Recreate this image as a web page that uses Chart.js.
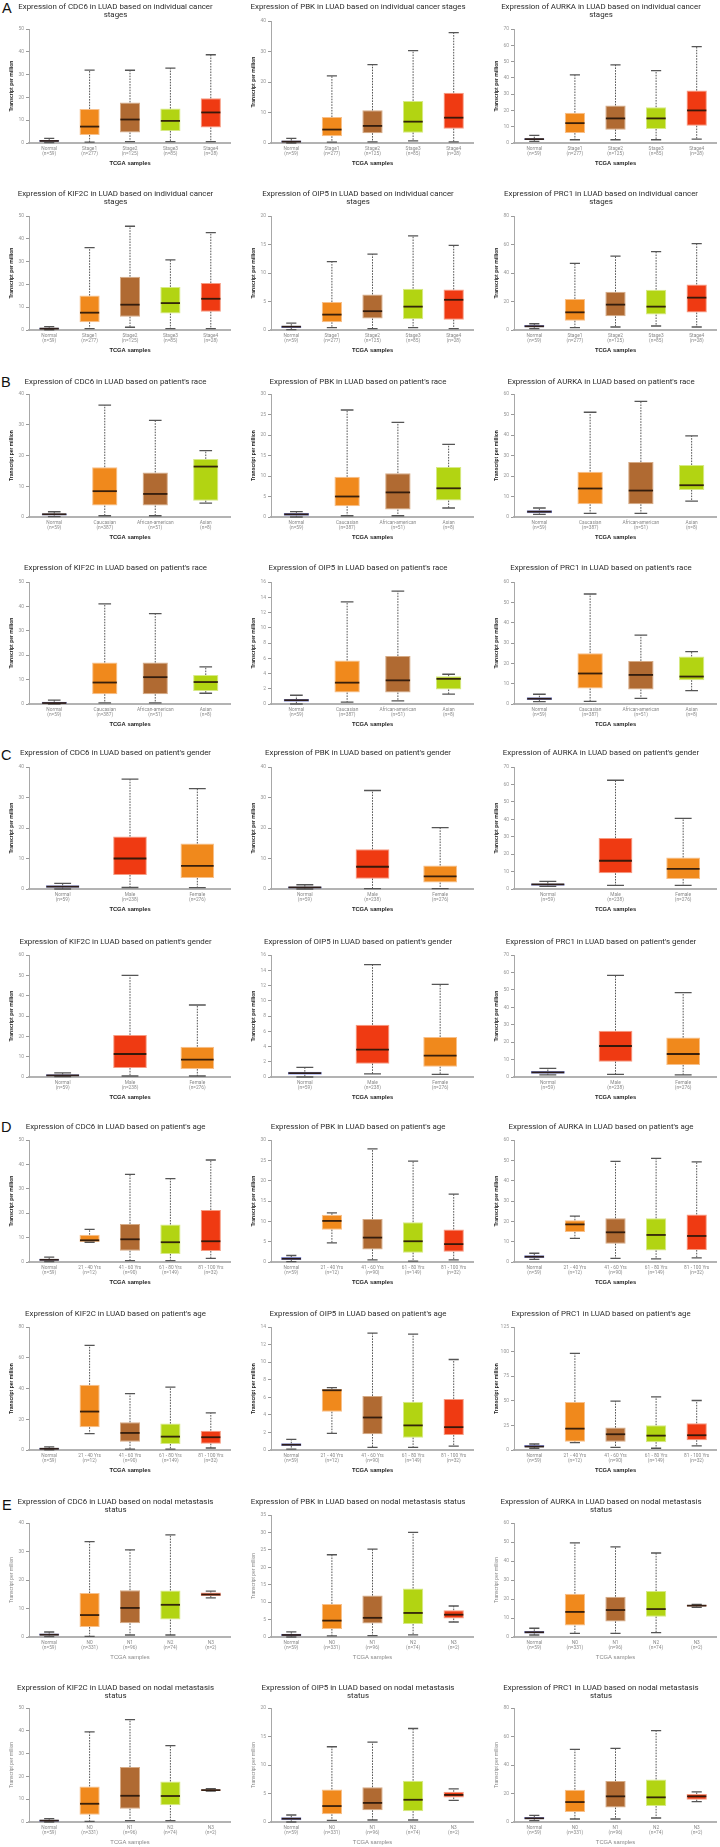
<!DOCTYPE html>
<html><head><meta charset="utf-8">
<script src="https://cdn.jsdelivr.net/npm/chart.js@4.4.0/dist/chart.umd.min.js"></script>
<style>
html,body{margin:0;padding:0;background:#fff;width:720px;height:1847px;overflow:hidden;position:relative}
canvas{position:absolute}
.lab{position:absolute;font-family:"Liberation Sans",Arial,sans-serif;font-size:14.5px;line-height:15px;color:#111}
</style></head><body>
<div class="lab" style="left:2px;top:1px">A</div>
<div class="lab" style="left:1px;top:375px">B</div>
<div class="lab" style="left:1px;top:748px">C</div>
<div class="lab" style="left:1px;top:1120px">D</div>
<div class="lab" style="left:2px;top:1498px">E</div>
<script>
// ---------- categories ----------
const stageCats = ['Normal','Stage1','Stage2','Stage3','Stage4'];
const stageN = ['(n=59)','(n=277)','(n=125)','(n=85)','(n=28)'];
const raceCats = ['Normal','Caucasian','African-american','Asian'];
const raceN = ['(n=59)','(n=387)','(n=51)','(n=8)'];
const genderCats = ['Normal','Male','Female'];
const genderN = ['(n=59)','(n=238)','(n=276)'];
const ageCats = ['Normal','21 - 40 Yrs','41 - 60 Yrs','61 - 80 Yrs','81 - 100 Yrs'];
const ageN = ['(n=59)','(n=12)','(n=90)','(n=149)','(n=32)'];
const nodalCats = ['Normal','N0','N1','N2','N3'];
const nodalN = ['(n=59)','(n=331)','(n=96)','(n=74)','(n=2)'];
const genes = ['CDC6','PBK','AURKA','KIF2C','OIP5','PRC1'];

// ---------- values: each entry [min, q1, median, q3, max] ----------
const stageCDC6 = [[0.2,0.5,0.9,1.3,2.0],[0.4,3.5,7.2,14.9,32.0],[0.6,4.6,10.3,17.8,31.9],[0.6,5.3,9.7,15.1,32.8],[0.6,6.8,13.4,19.6,38.7]];
const stagePBK = [[0,0.2,0.45,0.8,1.5],[0.3,2.2,4.4,8.5,22.0],[0.4,3.2,5.6,10.7,25.7],[0.7,3.4,7.0,13.8,30.3],[0.4,4.7,8.3,16.5,36.2]];
const stageAURKA = [[1.0,1.8,2.4,2.9,4.7],[2.0,6.1,12.2,18.6,41.8],[2.0,8.2,15.1,23.1,48.0],[2.0,8.6,15.1,22.0,44.5],[2.4,10.6,20.0,32.2,59.2]];
const stageKIF2C = [[0.1,0.3,0.6,1.0,1.5],[0.6,3.4,7.6,15.1,36.1],[1.2,5.8,11.1,23.4,45.5],[0.6,7.2,11.8,18.9,30.8],[0.6,8.0,13.7,20.6,42.7]];
const stageOIP5 = [[0.05,0.35,0.58,0.75,1.2],[0.4,1.35,2.7,4.9,12.0],[0.25,2.0,3.3,6.25,13.3],[0.4,1.9,4.1,7.25,16.5],[0.25,1.8,5.3,7.1,14.85]];
const stagePRC1 = [[0.9,1.9,2.6,3.5,4.4],[1.6,6.5,12.4,21.8,46.8],[2.1,9.6,17.8,26.9,51.9],[2.8,10.8,16.4,28.3,55.0],[2.1,12.2,22.7,32.0,60.6]];

const raceCDC6 = [[0.1,0.5,0.9,1.1,1.7],[0.4,3.7,8.4,16.2,36.4],[0.4,3.7,7.5,14.5,31.4],[4.5,5.3,16.4,18.9,21.6]];
const racePBK = [[0,0.3,0.65,1.0,1.3],[0.3,2.6,5.0,9.8,26.1],[0.3,1.8,6.0,10.7,23.1],[2.2,4.0,7.0,12.2,17.7]];
const raceAURKA = [[1.3,1.8,2.6,3.3,4.4],[1.8,6.2,13.9,22.1,51.1],[1.8,6.2,12.9,26.8,56.4],[7.7,13.2,15.5,25.4,39.6]];
const raceKIF2C = [[0,0.1,0.4,0.9,1.6],[0.5,4.0,8.8,17.0,41.0],[0.5,4.0,11.0,17.0,37.0],[4.4,5.3,9.0,11.9,15.2]];
const raceOIP5 = [[0,0.3,0.5,0.65,1.15],[0.25,1.5,2.8,5.7,13.4],[0.4,1.5,3.1,6.3,14.8],[1.3,1.9,3.3,3.65,3.9]];
const racePRC1 = [[1.2,2.0,2.6,3.3,4.8],[1.3,7.6,15.0,25.0,54.1],[2.8,7.1,14.3,21.2,33.9],[6.6,11.7,13.5,23.4,25.8]];

const genderCDC6 = [[0,0.45,0.75,1.2,1.85],[0.5,4.6,10.0,17.2,36.0],[0.45,3.6,7.6,14.9,32.9]];
const genderPBK = [[0,0.2,0.55,0.8,1.4],[0.1,3.4,7.3,13.0,32.3],[0.1,2.1,4.15,7.7,20.1]];
const genderAURKA = [[1.5,1.9,2.7,3.2,4.4],[2.1,9.0,16.2,29.2,62.4],[2.1,5.7,11.6,18.1,40.5]];
const genderKIF2C = [[0.2,0.4,0.8,1.3,2.0],[0.5,4.4,11.3,20.7,50.0],[0.5,3.9,8.5,14.9,35.4]];
const genderOIP5 = [[0,0.3,0.5,0.7,1.25],[0.4,1.75,3.6,6.85,14.75],[0.35,1.35,2.8,5.25,12.15]];
const genderPRC1 = [[1.2,1.9,2.7,3.4,5.0],[1.5,8.8,17.8,26.6,58.3],[1.2,6.9,13.2,22.6,48.4]];

const ageCDC6 = [[0.2,0.5,0.9,1.2,2.0],[8.1,8.2,8.9,11.2,13.4],[0.6,4.6,9.3,15.6,35.9],[0.6,3.3,8.1,15.4,34.2],[1.5,4.5,8.5,21.3,41.8]];
const agePBK = [[0.1,0.5,0.8,1.2,1.6],[4.7,7.95,10.1,11.6,12.1],[0.5,3.1,6.0,10.6,27.8],[0.2,2.3,5.1,9.8,24.8],[0.5,2.5,4.4,8.0,16.7]];
const ageAURKA = [[1.3,2.0,2.6,3.3,4.3],[11.6,14.8,18.5,20.5,22.6],[1.8,9.0,14.6,21.5,49.5],[1.5,5.7,13.3,21.5,51.0],[2.0,5.9,12.8,23.4,49.2]];
const ageKIF2C = [[0.1,0.4,0.8,1.3,2.0],[10.7,14.8,25.0,42.4,68.0],[0.6,5.4,11.1,18.0,36.7],[0.6,3.9,8.7,17.2,40.9],[1.3,4.1,8.3,12.6,24.1]];
const ageOIP5 = [[0.1,0.45,0.6,0.76,1.2],[1.9,4.35,6.8,6.95,7.1],[0.3,1.8,3.7,6.15,13.3],[0.3,1.4,2.8,5.5,13.2],[0.45,1.7,2.6,5.8,10.3]];
const agePRC1 = [[1.8,2.7,3.5,5.0,6.1],[7.5,8.5,21.7,48.9,98.1],[2.7,8.5,16.0,22.8,49.6],[1.8,8.0,14.6,25.2,54.0],[4.1,9.9,15.0,27.2,50.3]];

const nodalCDC6 = [[0.1,0.5,0.8,1.2,1.75],[0.2,3.5,7.7,15.4,33.5],[0.7,4.8,10.2,16.4,30.6],[0.7,6.1,11.3,16.3,35.8],[13.7,14.4,14.9,15.6,16.1]];
const nodalPBK = [[0,0.3,0.58,0.96,1.45],[0.3,2.3,4.7,9.5,23.6],[0.4,3.9,5.5,11.9,25.2],[0.6,3.7,6.9,13.9,30.0],[4.3,5.3,6.4,7.7,8.9]];
const nodalAURKA = [[1.05,1.9,2.5,3.2,4.6],[1.9,6.0,13.2,22.8,49.5],[1.9,8.2,14.2,21.2,47.4],[2.3,10.7,14.7,24.2,44.2],[15.6,16.0,16.5,16.8,17.2]];
const nodalKIF2C = [[0,0.15,0.6,1.0,1.5],[0.3,3.2,8.0,15.6,39.5],[0.6,5.8,11.5,24.1,44.9],[0.6,7.3,11.4,17.8,33.5],[13.5,13.7,14.0,14.3,14.6]];
const nodalOIP5 = [[0,0.3,0.58,0.82,1.23],[0.3,1.35,2.8,5.7,13.2],[0.35,2.05,3.35,6.1,14.0],[0.35,1.9,3.9,7.25,16.4],[3.8,4.3,4.75,5.3,5.8]];
const nodalPRC1 = [[0.9,1.9,2.6,3.5,4.7],[2.1,7.0,14.0,22.7,51.0],[2.1,10.1,18.0,28.8,51.7],[2.8,11.2,17.3,29.9,64.1],[14.3,15.6,18.0,19.6,21.1]];

// ---------- y-axis tick ranges (per gene, order of genes) ----------
const stageMax = [50,40,70,50,20,80];   const stageStep = [10,10,10,10,5,20];
const raceMax = [40,30,60,50,16,60];    const raceStep = [10,5,10,10,2,10];
const genderMax = [40,40,70,60,16,70];  const genderStep = [10,10,10,10,2,10];
const ageMax = [50,30,60,80,14,125];    const ageStep = [10,5,10,20,2,25];
const nodalMax = [40,35,60,50,20,80];   const nodalStep = [10,5,10,10,5,20];

// ---------- styling / layout ----------
const C = {blue:'#3a4cc6', orange:'#f0891c', brown:'#b06a32', green:'#b2d412', red:'#ef3a12'};
const CB = {blue:'#8e9ae8', orange:'#f8c08a', brown:'#d6ab86', green:'#d7ea86', red:'#f79b82'};
const groups = [
  {cats:stageCats, n:stageN, col:['blue','orange','brown','green','red'], max:stageMax, step:stageStep,
   data:[stageCDC6,stagePBK,stageAURKA,stageKIF2C,stageOIP5,stagePRC1],
   title:g => g==='PBK' ? ['Expression of PBK in LUAD based on individual cancer stages'] : ['Expression of '+g+' in LUAD based on individual cancer','stages']},
  {cats:raceCats, n:raceN, col:['blue','orange','brown','green'], max:raceMax, step:raceStep,
   data:[raceCDC6,racePBK,raceAURKA,raceKIF2C,raceOIP5,racePRC1],
   title:g => ['Expression of '+g+" in LUAD based on patient's race"]},
  {cats:genderCats, n:genderN, col:['blue','red','orange'], max:genderMax, step:genderStep,
   data:[genderCDC6,genderPBK,genderAURKA,genderKIF2C,genderOIP5,genderPRC1],
   title:g => ['Expression of '+g+" in LUAD based on patient's gender"]},
  {cats:ageCats, n:ageN, col:['blue','orange','brown','green','red'], max:ageMax, step:ageStep,
   data:[ageCDC6,agePBK,ageAURKA,ageKIF2C,ageOIP5,agePRC1],
   title:g => ['Expression of '+g+" in LUAD based on patient's age"]},
  {cats:nodalCats, n:nodalN, col:['blue','orange','brown','green','red'], max:nodalMax, step:nodalStep,
   data:[nodalCDC6,nodalPBK,nodalAURKA,nodalKIF2C,nodalOIP5,nodalPRC1], light:true,
   title:g => g==='PBK' ? ['Expression of PBK in LUAD based on nodal metastasis status'] : ['Expression of '+g+' in LUAD based on nodal metastasis','status']}
];
// rows: [canvas top, title bottom padding, zero line y]
const rows = [[3,10,143],[190,10,330],[378,8,517],[564,10,704],[749,10,889],[938,9,1077],[1123,9,1262],[1310,9,1450],[1498,9,1637],[1684,8,1822]];
const cols = [{left:0,width:231},{left:242,width:232},{left:485,width:232}];
const XH = 25, YW = 29;

function whiskerPlugin(stats){
  return {
    id:'whisk',
    afterDatasetsDraw(chart){
      const ctx = chart.ctx, ys = chart.scales.y;
      const meta = chart.getDatasetMeta(0);
      const py = v => ys.getPixelForValue(v);
      ctx.save();
      meta.data.forEach((bar,i) => {
        const [mn,q1,md,q3,mx] = stats[i];
        const x = bar.x, w = bar.width;
        ctx.setLineDash([1.6,1.2]); ctx.lineWidth = 1; ctx.strokeStyle = '#555';
        ctx.beginPath();
        ctx.moveTo(x, py(q3)); ctx.lineTo(x, py(mx));
        ctx.moveTo(x, py(q1)); ctx.lineTo(x, py(mn));
        ctx.stroke();
        ctx.setLineDash([]); ctx.lineWidth = 1.3; ctx.strokeStyle = '#555';
        ctx.beginPath();
        ctx.moveTo(x - w/4, py(mx)); ctx.lineTo(x + w/4, py(mx));
        ctx.moveTo(x - w/4, py(mn)); ctx.lineTo(x + w/4, py(mn));
        ctx.stroke();
        ctx.lineWidth = 1.8; ctx.strokeStyle = 'rgba(40,22,10,0.92)';
        ctx.beginPath();
        ctx.moveTo(x - w/2 + 0.5, py(md)); ctx.lineTo(x + w/2 - 0.5, py(md));
        ctx.stroke();
      });
      ctx.restore();
    }
  };
}

groups.forEach((grp, gi) => {
  genes.forEach((gene, k) => {
    const row = rows[gi*2 + Math.floor(k/3)];
    const col = cols[k % 3];
    const stats = grp.data[k];
    const cv = document.createElement('canvas');
    const h = row[2] + XH - row[0];
    cv.width = col.width; cv.height = h;
    cv.style.left = col.left + 'px'; cv.style.top = row[0] + 'px';
    cv.style.width = col.width + 'px'; cv.style.height = h + 'px';
    document.body.appendChild(cv);
    new Chart(cv, {
      type:'bar',
      data:{
        labels: grp.cats.map((c,i) => [c, grp.n[i]]),
        datasets:[{
          data: stats.map(s => [s[1], s[3]]),
          backgroundColor: grp.col.map(c => C[c]),
          borderColor: grp.col.map(c => CB[c]),
          borderWidth: 1,
          borderSkipped: false,
          barPercentage: 0.5,
          categoryPercentage: 1.0
        }]
      },
      options:{
        responsive:false, animation:false, devicePixelRatio:1,
        layout:{padding:0},
        plugins:{
          legend:{display:false}, tooltip:{enabled:false},
          title:{display:true, text:grp.title(gene), color:'#2a2a2a',
                 font:{family:'Roboto', size:7.9, weight:'normal', lineHeight:'8px'},
                 padding:{top:0, bottom:row[1]}}
        },
        scales:{
          x:{
            grid:{display:false, drawTicks:false},
            border:{display:true, color:'#b3b3b3', width:2},
            ticks:{color:'#8a8a8a', padding:3, font:{family:'Roboto', size:4.8, lineHeight:1.1}, maxRotation:0, autoSkip:false},
            title:{display:true, text:'TCGA samples', color: grp.light ? '#888' : '#222',
                   font:{family:'Liberation Sans', size:5.8, weight: grp.light ? 'normal' : 'bold', lineHeight:1.2},
                   padding:{top:0, bottom:1}},
            afterFit: s => { s.height = XH; }
          },
          y:{
            min:0, max:grp.max[k],
            grid:{display:true, drawOnChartArea:false, drawTicks:true, tickLength:3, color:'#999'},
            border:{display:true, color:'#a8a8a8', width:1},
            ticks:{stepSize:grp.step[k], color:'#999', padding:2, font:{family:'Roboto', size:5}},
            title:{display:true, text:'Transcript per million', color: grp.light ? '#888' : '#222',
                   font:{family:'Liberation Sans', size:5, weight: grp.light ? 'normal' : 'bold', lineHeight:1.2},
                   padding:{top:9, bottom:0}},
            afterFit: s => { s.width = YW; }
          }
        }
      },
      plugins:[whiskerPlugin(stats)]
    });
  });
});
</script>
</body></html>
